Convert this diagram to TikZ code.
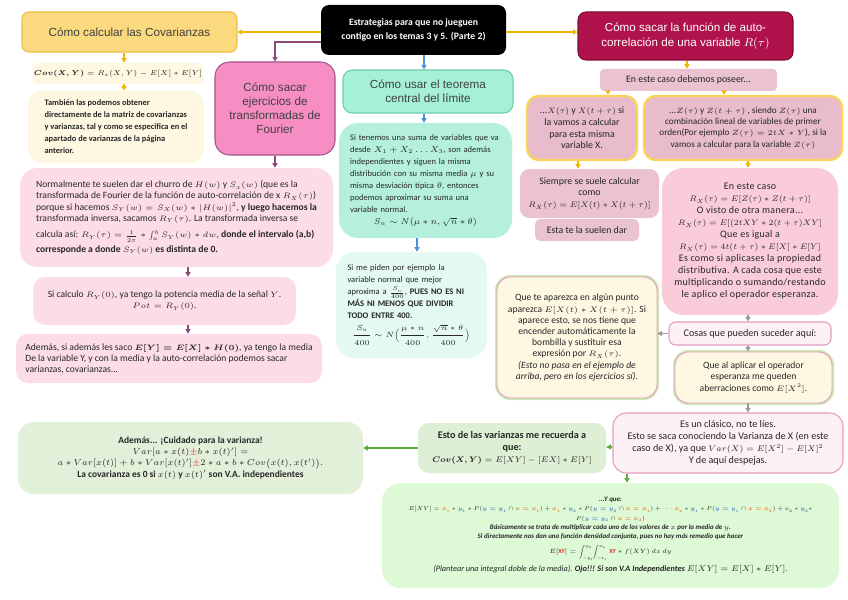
\RequirePackage{fix-cm}
\documentclass[tikz,border=0pt]{standalone}
\usepackage{amsmath}
\usepackage{fontspec}
\setmainfont{Carlito}
\newfontfamily\arialf{Liberation Sans}
\usetikzlibrary{calc,arrows.meta}
\DeclareMathSizes{7.2}{5.9}{4.4}{3.5}
\DeclareMathSizes{7.4}{6.0}{4.5}{3.6}
\DeclareMathSizes{6.9}{5.7}{4.3}{3.4}
\DeclareMathSizes{7.5}{6.0}{4.5}{3.6}
\DeclareMathSizes{7.6}{6.1}{4.6}{3.7}
\DeclareMathSizes{7.1}{6.4}{4.7}{3.7}
\definecolor{covF}{HTML}{FBD97E}
\definecolor{covD}{HTML}{F0BE45}
\definecolor{cream}{HTML}{FEF8E3}
\definecolor{fourF}{HTML}{F78EC3}
\definecolor{fourD}{HTML}{A2558A}
\definecolor{pinkL}{HTML}{FCDCE8}
\definecolor{purA}{HTML}{8C4C77}
\definecolor{tealF}{HTML}{A6F0DA}
\definecolor{tealD}{HTML}{6CCDB0}
\definecolor{tealM}{HTML}{B4F0DD}
\definecolor{tealL}{HTML}{E3F9F1}
\definecolor{blueA}{HTML}{4C92DB}
\definecolor{maroon}{HTML}{B0134B}
\definecolor{maroonD}{HTML}{7E0E36}
\definecolor{mauve}{HTML}{EAC2D1}
\definecolor{mauveB}{HTML}{E8BCCB}
\definecolor{yelB}{HTML}{F9D45C}
\definecolor{pinkM}{HTML}{FACCDA}
\definecolor{pinkXL}{HTML}{FDF1F5}
\definecolor{pinkB}{HTML}{E39CC0}
\definecolor{greenB}{HTML}{CBE9B3}
\definecolor{grayA}{HTML}{9A9A9A}
\definecolor{greenF}{HTML}{DDEFD5}
\definecolor{greenFF}{HTML}{E2F0DA}
\definecolor{greenY}{HTML}{DDF9D5}
\definecolor{greenA}{HTML}{5EAB40}
\definecolor{orA}{HTML}{F5B400}
\definecolor{txt}{HTML}{262626}
\definecolor{hdtxt}{HTML}{404040}
\definecolor{xorange}{HTML}{E8792F}
\definecolor{yblue}{HTML}{4A7FC4}
\definecolor{rred}{HTML}{E5262A}
\newcommand\colX[1]{\textcolor{xorange}{\boldsymbol{#1}}}
\newcommand\colY[1]{\textcolor{yblue}{\boldsymbol{#1}}}
\newcommand\colR[1]{\textcolor{rred}{#1}}
\newcommand\bodyf{\fontsize{7.2}{8.4}\selectfont}
\newcommand\rf{\fontsize{7.4}{8.8}\selectfont}
\newcommand\hdf{\arialf\fontsize{8.8}{10.5}\selectfont}
\tikzset{
  rect/.style args={#1/#2/#3/#4}{at={({(#1+#3)/2},{(#2+#4)/2})},
     minimum width={(#3-#1)*0.75pt}, minimum height={(#4-#2)*0.75pt}},
  bx/.style={rounded corners=6pt, inner sep=0pt, align=center, text=txt, font=\bodyf},
  hd/.style={bx, text=hdtxt, font=\hdf, line width=0.8pt},
  glow/.style={bx, fill=cream, draw=pinkB, line width=0.7pt, rounded corners=10pt,
     preaction={draw=greenB, line width=3pt}},
  arr/.style={line width=1pt, -{Triangle[length=3.4pt,width=3.8pt]}},
  oarr/.style={arr, draw=orA},
  parr/.style={arr, draw=purA},
  barr/.style={arr, draw=blueA},
  garr/.style={arr, draw=grayA},
  gnarr/.style={arr, draw=greenA},
}
\begin{document}
\begin{tikzpicture}[x=0.75pt,y=-0.75pt]
\useasboundingbox (0,0) rectangle (848,599);
\fill[white] (0,0) rectangle (848,599);
% alignment coordinates
\coordinate (ax0) at (124,0);
\coordinate (ax1) at (188,0);
\coordinate (ax2) at (424,0);
\coordinate (ax3) at (417,0);
\coordinate (ax4) at (687,0);
\coordinate (ax5) at (608,0);
\coordinate (ax6) at (724,0);
\coordinate (ax7) at (578,0);
\coordinate (ax8) at (748,0);
\coordinate (ax9) at (627,0);
\coordinate (ay1) at (0,32);
\coordinate (ay2) at (0,447);

% title
\node[bx, fill=black, rect=321/5/506/55, text=white, font=\fontsize{7.3}{11}\selectfont\bfseries] (title)
  {Estrategias para que no jueguen\\contigo en los temas 3 y 5. (Parte 2)};

% covarianzas branch
\node[hd, fill=covF, draw=covD, rect=22/12/237/52, rounded corners=5pt] (cov) {Cómo calcular las Covarianzas};
\node[bx, fill=cream, rect=33/63/203/84, rounded corners=3pt, font=\fontsize{5.3}{8}\selectfont] (covf)
  {$\boldsymbol{Cov(X,Y)} = R_x(X,Y) - E[X] * E[Y]$};
\node[bx, fill=cream, rect=28/91/204/163, rounded corners=10pt, align=left, font=\fontsize{6.3}{9}\selectfont\bfseries] (tam)
  {También las podemos obtener\\directamente de la matriz de covarianzas\\y varianzas, tal y como se especifica en el\\apartado de varianzas de la página\\anterior.};

% fourier branch
\node[hd, fill=fourF, draw=fourD, rect=215/62/335/155, rounded corners=11pt] (four)
  {Cómo sacar\\ejercicios de\\transformadas de\\Fourier};
\node[bx, fill=pinkL, rect=20/168/333/267, rounded corners=13pt, align=left] (fourt)
  {Normalmente te suelen dar el churro de $H(w)$ y $S_x(w)$ (que es la\\
   transformada de Fourier de la función de auto-correlación de x $R_X(\tau)$)\\
   porque si hacemos $S_Y(w) = S_X(w) * |H(w)|^2$, \textbf{y luego hacemos la}\\
   transformada inversa, sacamos $R_Y(\tau)$. La transformada inversa se\\[4pt]
   calcula así: $R_Y(\tau) = \frac{1}{2\pi} * \int_a^b S_Y(w) * dw$, \textbf{donde el intervalo (a,b)}\\[2.5pt]
   \textbf{corresponde a donde $S_Y(w)$ es distinta de 0.}};
\node[bx, fill=pinkL, rect=33/277/296/325, rounded corners=9pt] (pot)
  {Si calculo $R_Y(0)$, ya tengo la potencia media de la señal $Y$.\\$Pot = R_Y(0)$.};
\node[bx, fill=pinkL, rect=16/334/322/383, rounded corners=9pt, align=left] (adem)
  {Además, si además les saco $\boldsymbol{E[Y] = E[X] * H(0)}$, ya tengo la media\\
   De la variable Y, y con la media y la auto-correlación podemos sacar\\
   varianzas, covarianzas...};

% TCL branch
\node[hd, fill=tealF, draw=tealD, rect=343/70/513/113, rounded corners=7pt] (tclh)
  {Cómo usar el teorema\\central del límite};
\node[bx, fill=tealM, rect=339/123/512/238, rounded corners=14pt, align=left, text width=113pt, font=\fontsize{6.4}{9}\selectfont] (tclt)
  {Si tenemos una suma de variables que va\\
   desde $X_1 + X_2 \ldots X_3$, son además\\
   independientes y siguen la misma\\
   distribución con su misma media $\mu$ y su\\
   misma desviación típica $\theta$, entonces\\
   podemos aproximar su suma una\\
   variable normal.\\
   \makebox[\linewidth]{\fontsize{6.4}{9}\selectfont $S_n \sim N(\mu * n, \sqrt{n} * \theta)$}};
\node[bx, fill=tealL, rect=336/252/487/358, rounded corners=14pt, align=left, text width=96pt, font=\fontsize{6.4}{9}\selectfont] (piden)
  {Si me piden por ejemplo la\\
   variable normal que mejor\\
   aproxima a $\frac{S_n}{400}$, \textbf{PUES NO ES NI}\\
   \textbf{MÁS NI MENOS QUE DIVIDIR}\\
   \textbf{TODO ENTRE 400.}\\[3pt]
   \makebox[\linewidth]{\fontsize{5.6}{9}\selectfont $\dfrac{S_n}{400} \sim N\Big(\dfrac{\mu * n}{400}, \dfrac{\sqrt{n} * \theta}{400}\Big)$}};

% autocorrelation branch
\node[hd, fill=maroon, draw=maroonD, text=white, rect=578/12/793/60, rounded corners=6pt, font=\arialf\fontsize{8.7}{11}\selectfont] (auto)
  {Cómo sacar la función de auto-\\correlación de una variable $R(\tau)$};
\node[bx, fill=mauve, rect=600/69/777/91, rounded corners=3pt, font=\rf] (eneste)
  {En este caso debemos poseer...};
\node[bx, fill=mauveB, draw=yelB, line width=1.8pt, rect=527/96/637/160, rounded corners=9pt, font=\rf] (lsub)
  {...$X(\tau)$ y $X(t+\tau)$ si\\la vamos a calcular\\para esta misma\\variable X.};
\node[bx, fill=mauveB, draw=yelB, line width=1.8pt, rect=644/96/842/160, rounded corners=9pt, font=\fontsize{6.9}{8.6}\selectfont] (rsub)
  {...$Z(\tau)$ y $Z(t+\tau)$ , siendo $Z(\tau)$ una\\combinación lineal de variables de primer\\orden(Por ejemplo $Z(\tau) = 2tX * Y$), si la\\vamos a calcular para la variable $Z(\tau)$};
\node[bx, fill=mauve, rect=520/169/659/218, rounded corners=7pt, font=\rf] (siempre)
  {Siempre se suele calcular\\como\\$R_X(\tau) = E[X(t) * X(t+\tau)]$};
\node[bx, fill=mauve, rect=535/219/639/241, rounded corners=4pt, font=\rf] (esta)
  {Esta te la suelen dar};
\node[bx, fill=pinkM, rect=662/168/838/315, rounded corners=16pt, font=\fontsize{7.5}{9}\selectfont\addfontfeatures{LetterSpace=3}] (big)
  {En este caso\\$R_X(\tau) = E[Z(\tau) * Z(t+\tau)]$\\O visto de otra manera...\\$R_X(\tau) = E[(2tXY * 2(t+\tau)XY]$\\Que es igual a\\$R_X(\tau) = 4t(t+\tau) * E[X] * E[Y]$\\Es como si aplicases la propiedad\\distributiva. A cada cosa que este\\multiplicando o sumando/restando\\le aplico el operador esperanza.};
\node[bx, fill=pinkXL, draw=pinkB, line width=0.8pt, rect=669/322/831/345, rounded corners=5pt, font=\fontsize{7.6}{9}\selectfont] (cosas)
  {Cosas que pueden suceder aquí:};
\node[glow, rect=497/277/657/398] (quete)
  {Que te aparezca en algún punto\\aparezca $E[X(t) * X(t+\tau)]$. Si\\aparece esto, se nos tiene que\\encender automáticamente la\\bombilla y sustituir esa\\expresión por $R_X(\tau)$.\\\textit{(Esto no pasa en el ejemplo de}\\\textit{arriba, pero en los ejercicios sí).}};
\node[glow, rect=675/352/832/403] (queal)
  {Que al aplicar el operador\\esperanza me queden\\aberraciones como $E[X^2]$.};
\node[bx, fill=pinkXL, draw=pinkB, line width=0.8pt, rect=613/413/843/473, rounded corners=10pt, font=\fontsize{7.6}{9}\selectfont] (clasico)
  {Es un clásico, no te líes.\\Esto se saca conociendo la Varianza de X (en este\\caso de X), ya que $Var(X) = E[X^2] - E[X]^2$\\Y de aquí despejas.};
\node[bx, fill=greenF, rect=418/423/606/473, rounded corners=8pt, font=\fontsize{7.6}{9}\selectfont\bfseries] (varz)
  {Esto de las varianzas me recuerda a\\que:\\$\boldsymbol{Cov(X,Y)} = E[XY] - [EX] * E[Y]$};
\node[bx, fill=greenFF, rect=18/422/363/494, rounded corners=12pt, font=\fontsize{7.1}{8.4}\selectfont] (cuid)
  {\textbf{Además... ¡Cuidado para la varianza!}\\
   $Var[a * x(t) \colR{\pm} b * x(t)'] =$\\
   $a * Var[x(t)] + b * Var[x(t)'] \colR{\pm} 2 * a * b * Cov\big(x(t),x(t')\big).$\\
   \textbf{La covarianza es 0 si $x(t)$ y $x(t)'$ son V.A. independientes}};
\node[bx, fill=greenY, rect=382/483/839/588, rounded corners=14pt, font=\fontsize{5.2}{7}\selectfont] (yque)
  {\textbf{\textit{...Y que:}}\\
   {\fontsize{4.15}{7}\selectfont $E[XY] = \colX{x_1} * \colY{y_1} * P(\colY{y = y_1} \cap \colX{x = x_1}) + \colX{x_1} * \colY{y_2} * P(\colY{y = y_2} \cap \colX{x = x_1}) + \cdots \colX{x_2} * \colY{y_1} * P(\colY{y = y_1} \cap \colX{x = x_2}) + x_2 * \colY{y_2} *$}\\
   {\fontsize{4.15}{7}\selectfont $P(\colY{y = y_2} \cap \colX{x = x_2})$}\\
   \textbf{\textit{Básicamente se trata de multiplicar cada uno de los valores de $x$ por la media de $y$.}}\\
   \textbf{\textit{Si directamente nos dan una función densidad conjunta, pues no hay más remedio que hacer}}\\[3pt]
   {\fontsize{4.6}{7}\selectfont $E[\colR{\mathbf{XY}}] = \displaystyle\int_{-y_1}^{y_2}\!\!\int_{-x_1}^{x_2} \colR{\mathbf{XY}} * f(XY)\,dx\,dy$}\\[3pt]
   {\fontsize{6.2}{7.2}\selectfont\textit{(Plantear una integral doble de la media).} \textbf{\textit{Ojo!!! Si son V.A Independientes}} $E[XY] = E[X] * E[Y]$.}};

% connectors
\draw[oarr] (title.west |- cov.east) -- (cov.east);
\draw[oarr] (title.east |- ay1) -- (auto.west |- ay1);
\draw[parr] ($(title.west)+(0,12)$) -| (four.north);
\draw[barr] (title.south -| ax2) -- (tclh.north -| ax2);
\draw[oarr] (cov.south -| ax0) -- (covf.north -| ax0);
\draw[oarr] (covf.south -| ax0) -- (tam.north -| ax0);
\draw[parr] (four.south) -- (four.south |- fourt.north);
\draw[parr] (fourt.south -| ax1) -- (pot.north -| ax1);
\draw[parr] (pot.south -| ax1) -- (adem.north -| ax1);
\draw[barr] (tclh.south -| ax2) -- (tclt.north -| ax2);
\draw[barr] (tclt.south -| ax3) -- (piden.north -| ax3);
\draw[oarr] (auto.south -| ax4) -- (eneste.north -| ax4);
\draw[oarr] (eneste.south -| ax5) -- (lsub.north -| ax5);
\draw[oarr] (eneste.south -| ax6) -- (rsub.north -| ax6);
\draw[oarr] (lsub.south -| ax7) -- (siempre.north -| ax7);
\draw[oarr] (rsub.south -| ax8) -- (big.north -| ax8);
\draw[garr] (big.south -| ax8) -- (cosas.north -| ax8);
\draw[garr] (cosas.west) -- (cosas.west -| quete.east);
\draw[garr] (cosas.south -| ax8) -- (queal.north -| ax8);
\draw[garr] (queal.south -| ax8) -- (clasico.north -| ax8);
\draw[gnarr] (clasico.west |- ay2) -- (varz.east |- ay2);
\draw[gnarr] (varz.west) -- (varz.west -| cuid.east);
\draw[gnarr] (clasico.south -| ax9) -- (yque.north -| ax9);
\end{tikzpicture}
\end{document}
